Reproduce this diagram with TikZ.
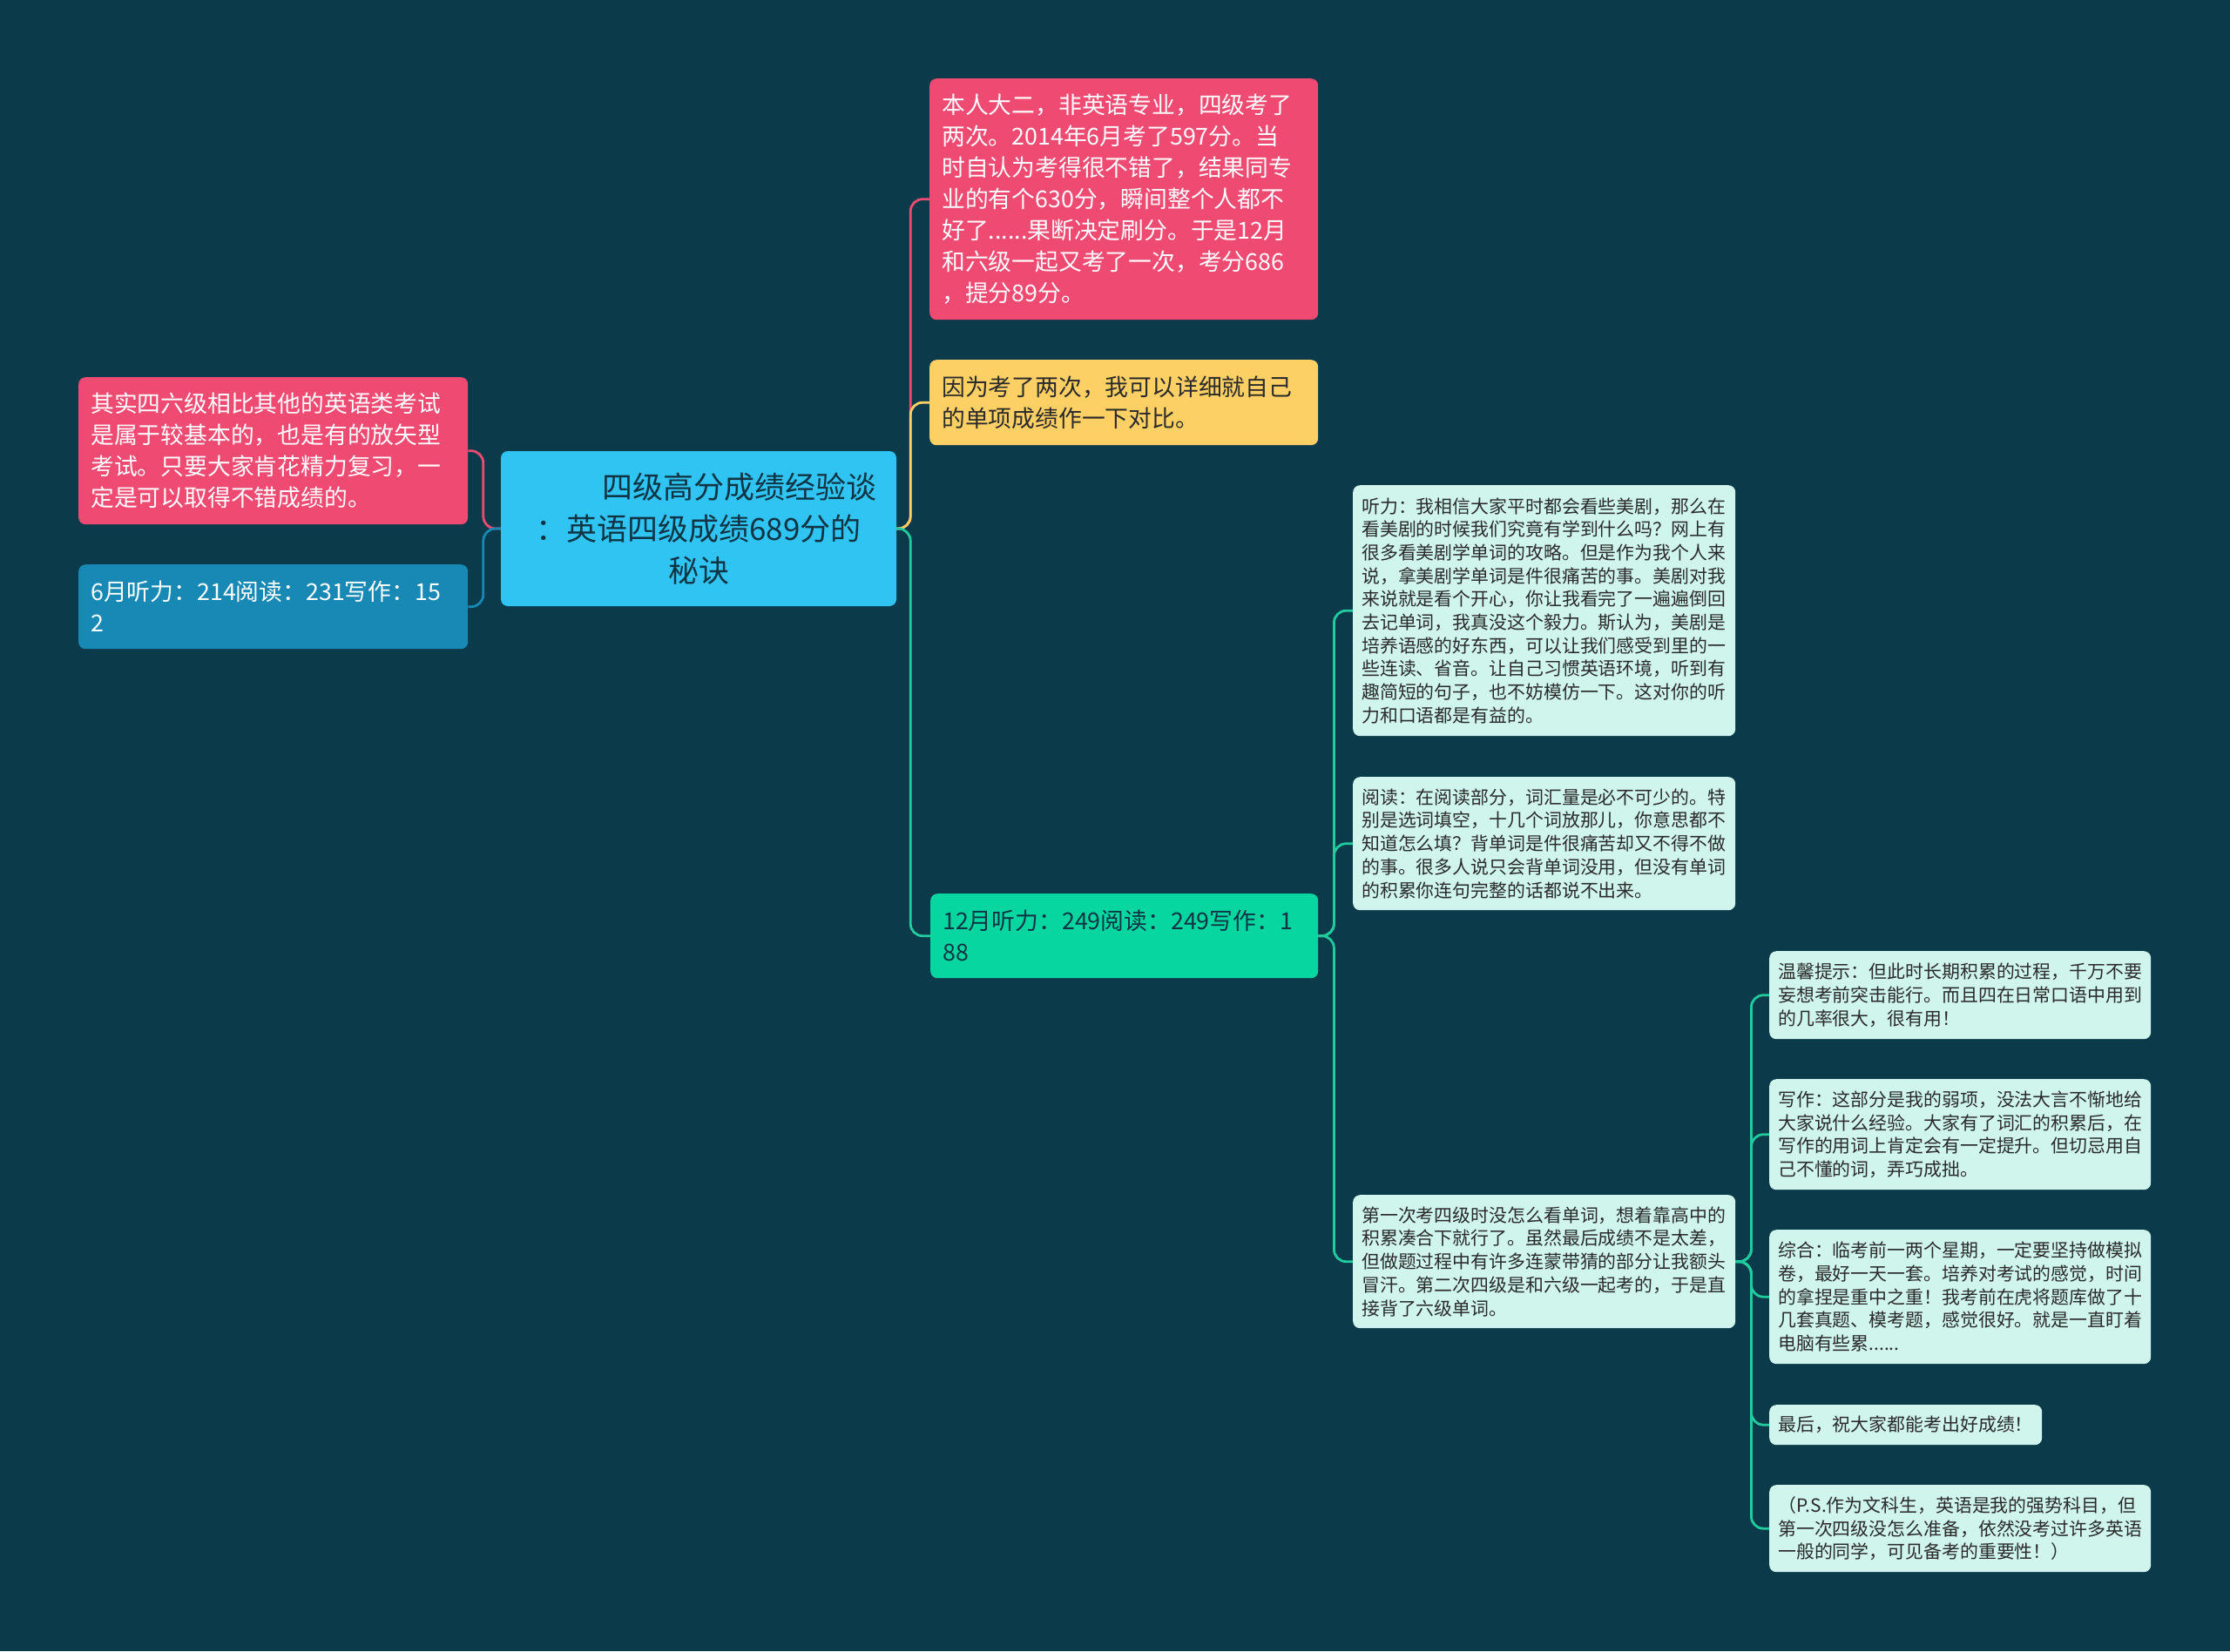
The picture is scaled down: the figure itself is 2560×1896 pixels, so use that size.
\documentclass[tikz,border=0pt]{standalone}
\usepackage{fontspec}
\setmainfont{Noto Sans CJK SC}
\definecolor{bgC}{HTML}{0B3A4B}
\definecolor{pinkC}{HTML}{EF4A72}
\definecolor{yellowC}{HTML}{FDD066}
\definecolor{rootC}{HTML}{30C4F2}
\definecolor{blueC}{HTML}{1789B4}
\definecolor{greenC}{HTML}{07D6A0}
\definecolor{lightC}{HTML}{CFF5EC}
\definecolor{lineG}{HTML}{22CB9E}
\definecolor{darkT}{HTML}{2A2A2A}
\definecolor{rootT}{HTML}{113445}
\begin{document}
\begin{tikzpicture}[x=1pt,y=-1pt,
  box/.style={rectangle, rounded corners=8pt, anchor=north west, align=left, inner xsep=14pt, inner ysep=0pt},
  big/.style={font=\fontsize{26.8pt}{36pt}\selectfont},
  small/.style={font=\fontsize{20.9pt}{26.7pt}\selectfont, fill=lightC, text=darkT, inner xsep=10pt},
  link/.style={line width=2.8pt, rounded corners=14pt}
]
\fill[bgC] (0,0) rectangle (2560,1896);
\useasboundingbox (0,0) rectangle (2560,1896);

% root
\node[box, fill=rootC, text=rootT, align=center, anchor=center,
  minimum width=454pt, minimum height=178pt,
  font=\fontsize{35pt}{48pt}\selectfont] (root) at (802,607)
  {\hspace*{94pt}四级高分成绩经验谈\\：英语四级成绩689分的\\秘诀};

% left side
\node[box, big, fill=pinkC, text=white, minimum width=445pt, minimum height=169pt, text width=419pt] (lpink) at (90,433)
  {其实四六级相比其他的英语类考试\\是属于较基本的，也是有的放矢型\\考试。只要大家肯花精力复习，一\\定是可以取得不错成绩的。};
\node[box, big, fill=blueC, text=white, minimum width=445pt, minimum height=97pt, text width=419pt] (lblue) at (90,648)
  {6月听力：214阅读：231写作：15\\2};

% right side level 1
\node[box, big, fill=pinkC, text=white, minimum width=446pt, minimum height=277pt, text width=418pt] (tpink) at (1067,90)
  {本人大二，非英语专业，四级考了\\两次。2014年6月考了597分。当\\时自认为考得很不错了，结果同专\\业的有个630分，瞬间整个人都不\\好了......果断决定刷分。于是12月\\和六级一起又考了一次，考分686\\，提分89分。};
\node[box, big, fill=yellowC, text=darkT, minimum width=446pt, minimum height=98pt, text width=418pt] (yel) at (1067,413)
  {因为考了两次，我可以详细就自己\\的单项成绩作一下对比。};
\node[box, big, fill=greenC, text=rootT, minimum width=445pt, minimum height=97pt, text width=417pt] (grn) at (1068,1026)
  {12月听力：249阅读：249写作：1\\88};

% level 2
\node[box, small, minimum width=439pt, minimum height=288pt, text width=419pt] (l1) at (1553,557)
  {听力：我相信大家平时都会看些美剧，那么在\\看美剧的时候我们究竟有学到什么吗？网上有\\很多看美剧学单词的攻略。但是作为我个人来\\说，拿美剧学单词是件很痛苦的事。美剧对我\\来说就是看个开心，你让我看完了一遍遍倒回\\去记单词，我真没这个毅力。斯认为，美剧是\\培养语感的好东西，可以让我们感受到里的一\\些连读、省音。让自己习惯英语环境，听到有\\趣简短的句子，也不妨模仿一下。这对你的听\\力和口语都是有益的。};
\node[box, small, minimum width=439pt, minimum height=153pt, text width=419pt] (l2) at (1553,892)
  {阅读：在阅读部分，词汇量是必不可少的。特\\别是选词填空，十几个词放那儿，你意思都不\\知道怎么填？背单词是件很痛苦却又不得不做\\的事。很多人说只会背单词没用，但没有单词\\的积累你连句完整的话都说不出来。};
\node[box, small, minimum width=439pt, minimum height=153pt, text width=419pt] (l3) at (1553,1372)
  {第一次考四级时没怎么看单词，想着靠高中的\\积累凑合下就行了。虽然最后成绩不是太差，\\但做题过程中有许多连蒙带猜的部分让我额头\\冒汗。第二次四级是和六级一起考的，于是直\\接背了六级单词。};

% level 3
\node[box, small, minimum width=438pt, minimum height=101pt, text width=418pt] (m1) at (2031,1092)
  {温馨提示：但此时长期积累的过程，千万不要\\妄想考前突击能行。而且四在日常口语中用到\\的几率很大，很有用！};
\node[box, small, minimum width=438pt, minimum height=127pt, text width=418pt] (m2) at (2031,1239)
  {写作：这部分是我的弱项，没法大言不惭地给\\大家说什么经验。大家有了词汇的积累后，在\\写作的用词上肯定会有一定提升。但切忌用自\\己不懂的词，弄巧成拙。};
\node[box, small, minimum width=438pt, minimum height=154pt, text width=418pt] (m3) at (2031,1412)
  {综合：临考前一两个星期，一定要坚持做模拟\\卷，最好一天一套。培养对考试的感觉，时间\\的拿捏是重中之重！我考前在虎将题库做了十\\几套真题、模考题，感觉很好。就是一直盯着\\电脑有些累......};
\node[box, small, minimum width=313pt, minimum height=46pt, text width=293pt] (m4) at (2031,1613)
  {最后，祝大家都能考出好成绩！};
\node[box, small, minimum width=438pt, minimum height=100pt, text width=418pt] (m5) at (2031,1705)
  {（P.S.作为文科生，英语是我的强势科目，但\\第一次四级没怎么准备，依然没考过许多英语\\一般的同学，可见备考的重要性！）};

% connectors
\draw[link, pinkC] (root.west) -- ++(-20,0) |- (lpink.east);
\draw[link, blueC] (root.west) -- ++(-20,0) |- (lblue.east);
\draw[link, pinkC] (root.east) -- ++(16,0) |- (tpink.west);
\draw[link, yellowC] (root.east) -- ++(16,0) |- (yel.west);
\draw[link, lineG] (root.east) -- ++(16,0) |- (grn.west);
\foreach \c in {l1,l2,l3}
  \draw[link, lineG] (grn.east) -- ++(18,0) |- (\c.west);
\foreach \c in {m1,m2,m3,m4,m5}
  \draw[link, lineG] (l3.east) -- ++(18,0) |- (\c.west);
\end{tikzpicture}
\end{document}
